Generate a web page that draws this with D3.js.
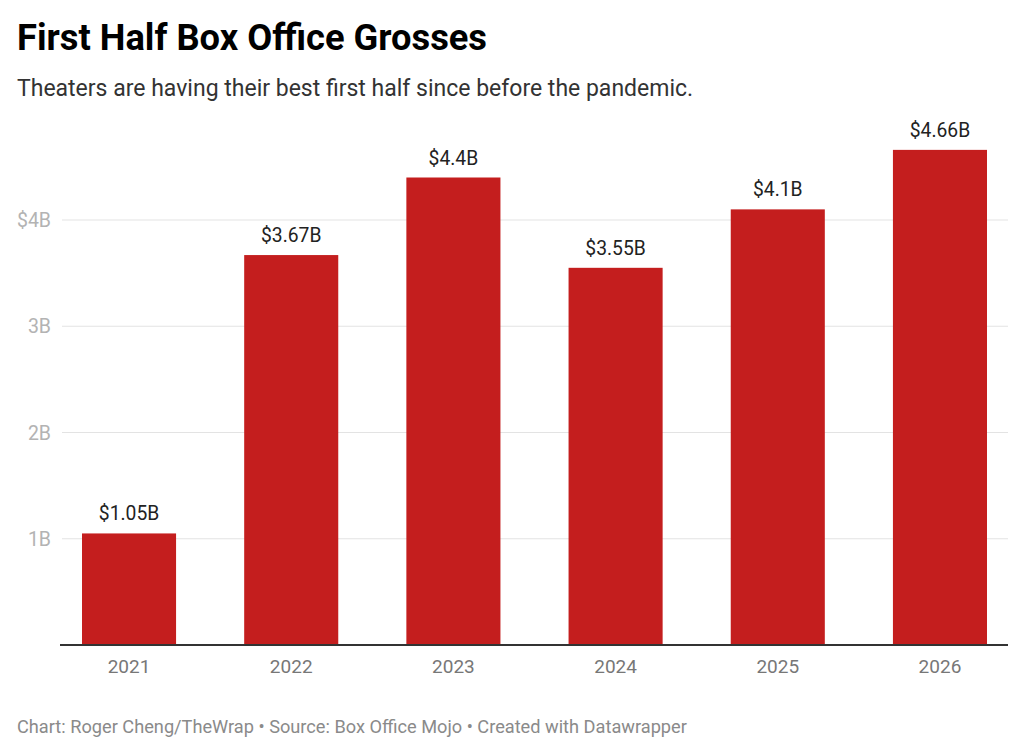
<!DOCTYPE html>
<html>
<head>
<meta charset="utf-8">
<script src="https://cdn.jsdelivr.net/npm/d3@7"></script>
<style>
  html, body { margin: 0; padding: 0; background: #fff; }
  svg { display: block; font-family: Roboto, "Noto Sans", sans-serif; }
</style>
</head>
<body>
<svg id="chart" width="1024" height="755"></svg>
<script>
// ── Data ───────────────────────────────────────────────────────────────────

const years   = ['2021', '2022', '2023', '2024', '2025', '2026'];
const grosses = [1.05, 3.67, 4.4, 3.55, 4.1, 4.66];
const labels  = ['$1.05B', '$3.67B', '$4.4B', '$3.55B', '$4.1B', '$4.66B'];
const yTicks  = [1, 2, 3, 4];
const yTickLabels = ['1B', '2B', '3B', '$4B'];

// ── Layout ─────────────────────────────────────────────────────────────────

const svg = d3.select('#chart');
const baseY = 645;
const gridLeft = 62, gridRight = 1008;

const x = d3.scaleBand()
  .domain(years)
  .range([82, 987])
  .paddingInner(0.42)
  .paddingOuter(0);

const y = d3.scaleLinear()
  .domain([0, 4])
  .range([baseY, 220]);

// ── Header ─────────────────────────────────────────────────────────────────

svg.append('text')
  .attr('x', 17).attr('y', 50)
  .attr('font-size', 36.3).attr('font-weight', 700)
  .attr('fill', '#000')
  .text('First Half Box Office Grosses');

svg.append('text')
  .attr('x', 17).attr('y', 96)
  .attr('font-size', 23)
  .attr('fill', '#333')
  .text('Theaters are having their best first half since before the pandemic.');

// ── Grid + y labels ────────────────────────────────────────────────────────

const grid = svg.append('g');
grid.selectAll('line')
  .data(yTicks)
  .join('line')
  .attr('x1', gridLeft).attr('x2', gridRight)
  .attr('y1', d => y(d)).attr('y2', d => y(d))
  .attr('stroke', '#e3e3e3').attr('stroke-width', 1);

grid.selectAll('text')
  .data(yTicks)
  .join('text')
  .attr('x', 51).attr('y', d => y(d))
  .attr('dy', '0.36em')
  .attr('text-anchor', 'end')
  .attr('font-size', 19.5)
  .attr('fill', '#b3b3b3')
  .text((d, i) => yTickLabels[i]);

// ── Bars ───────────────────────────────────────────────────────────────────

svg.append('g').selectAll('rect')
  .data(grosses)
  .join('rect')
  .attr('x', (d, i) => x(years[i]))
  .attr('y', d => y(d))
  .attr('width', x.bandwidth())
  .attr('height', d => baseY - y(d))
  .attr('fill', '#c41e1e');

svg.append('g').selectAll('text')
  .data(grosses)
  .join('text')
  .attr('x', (d, i) => x(years[i]) + x.bandwidth() / 2)
  .attr('y', d => y(d) - 13)
  .attr('text-anchor', 'middle')
  .attr('font-size', 19.3)
  .attr('fill', '#222')
  .text((d, i) => labels[i]);

// ── X axis ─────────────────────────────────────────────────────────────────

svg.append('line')
  .attr('x1', 60).attr('x2', gridRight)
  .attr('y1', baseY).attr('y2', baseY)
  .attr('stroke', '#333').attr('stroke-width', 2);

svg.append('g').selectAll('text')
  .data(years)
  .join('text')
  .attr('x', d => x(d) + x.bandwidth() / 2)
  .attr('y', 673)
  .attr('text-anchor', 'middle')
  .attr('font-size', 19)
  .attr('fill', '#777')
  .text(d => d);

// ── Footer ─────────────────────────────────────────────────────────────────

svg.append('text')
  .attr('x', 17).attr('y', 733)
  .attr('font-size', 18.2)
  .attr('fill', '#8a8a8a')
  .text('Chart: Roger Cheng/TheWrap \u2022 Source: Box Office Mojo \u2022 Created with Datawrapper');
</script>
</body>
</html>
